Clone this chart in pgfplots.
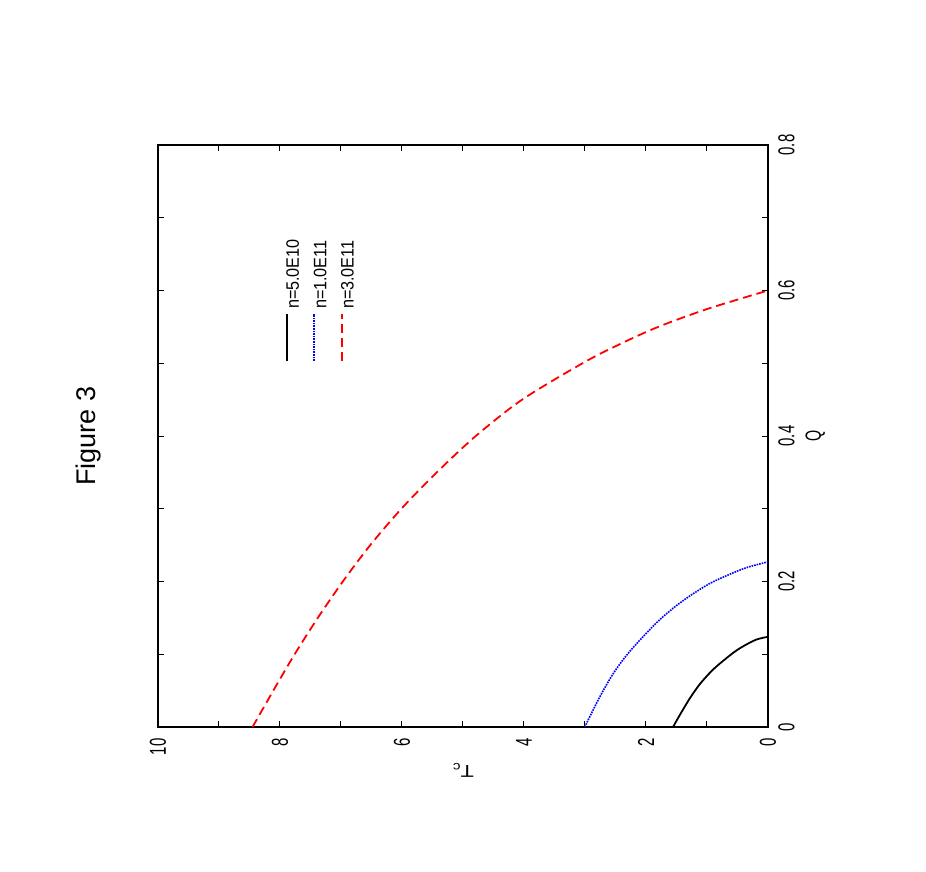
\documentclass[border=0pt]{standalone}
\usepackage{fontspec}
\setmainfont{Liberation Sans}
\newfontfamily\narrowfont{Liberation Sans}[FakeStretch=0.65]
\newfontfamily\legfont{Liberation Sans}[FakeStretch=0.9]
\newfontfamily\widefont{Liberation Sans}[FakeStretch=1.25]
\usepackage{pgfplots}
\pgfplotsset{compat=1.18}

\begin{document}
\begin{tikzpicture}
\begin{scope}[rotate=90, transform shape]
\useasboundingbox (0,0) rectangle (436pt,463pt);
\begin{axis}[
    at={(72.5pt,79pt)}, anchor=south west,
    scale only axis, width=291pt, height=305pt,
    xmin=0, xmax=0.8, ymin=0, ymax=10,
    xtick={0,0.2,0.4,0.6,0.8}, ytick={0,2,4,6,8,10},
    minor x tick num=1, minor y tick num=1,
    tick align=inside, major tick length=3pt, minor tick length=3pt,
    every tick/.style={black, line width=0.5pt},
    axis line style={line width=0.9pt},
    /pgf/number format/assume math mode=true,
    xticklabel style={font=\narrowfont\fontsize{11.5}{12}\selectfont, inner sep=0pt, yshift=-5pt},
    yticklabel style={font=\narrowfont\fontsize{11.5}{12}\selectfont, inner sep=0pt, xshift=-5.5pt},
    xlabel={Q},
    xlabel style={at={(axis description cs:0.5,0)}, anchor=north, yshift=-18.5pt, inner sep=0pt,
                  font=\narrowfont\fontsize{11}{12}\selectfont},
    ylabel={T\textsubscript{c}},
    ylabel style={at={(axis description cs:-0.0653,0.5)}, anchor=base, inner sep=0pt,
                  font=\widefont\fontsize{8.6}{10}\selectfont},
    title={Figure 3},
    title style={at={(0.5,1)}, anchor=base, yshift=25pt, inner sep=0pt,
                 font=\fontsize{13.5}{16}\selectfont},
    legend cell align=left,
    legend image code/.code={\draw[#1] (0pt,3pt) -- (23.5pt,3pt);},
    legend style={draw=none, fill=none, inner sep=0pt, outer sep=0pt,
                  at={(axis cs:0.502,7.90)}, anchor=north west,
                  row sep=7.25pt, column sep=2pt,
                  nodes={inner sep=0pt, text height=6pt, text depth=0pt,
                         font=\legfont\fontsize{9}{10}\selectfont}},
]
\addplot[black, line width=0.9pt, smooth] coordinates {
(0,1.557) (0.02,1.421) (0.04,1.277) (0.06,1.107) (0.08,0.887)
(0.10,0.601) (0.11,0.426) (0.12,0.196) (0.124,0)};
\addlegendentry{n=5.0E10}
\addplot[blue, line width=0.8pt, dash pattern=on 0.8pt off 0.5pt, smooth] coordinates {
(0,3.005) (0.041,2.76) (0.073,2.54) (0.0985,2.32) (0.124,2.05) (0.147,1.78)
(0.167,1.50) (0.183,1.23) (0.197,0.96) (0.208,0.68) (0.219,0.355) (0.227,0)};
\addlegendentry{n=1.0E11}
\addplot[red, line width=0.9pt, dash pattern=on 4.5pt off 2.5pt, smooth] coordinates {
(0,8.45) (0.05,8.11) (0.10,7.76) (0.15,7.38) (0.20,6.97) (0.25,6.52)
(0.30,6.01) (0.35,5.43) (0.40,4.79) (0.45,4.03) (0.50,3.04) (0.525,2.46)
(0.55,1.80) (0.575,0.98) (0.60,0)};
\addlegendentry{n=3.0E11}
\end{axis}
\end{scope}
\end{tikzpicture}
\end{document}
